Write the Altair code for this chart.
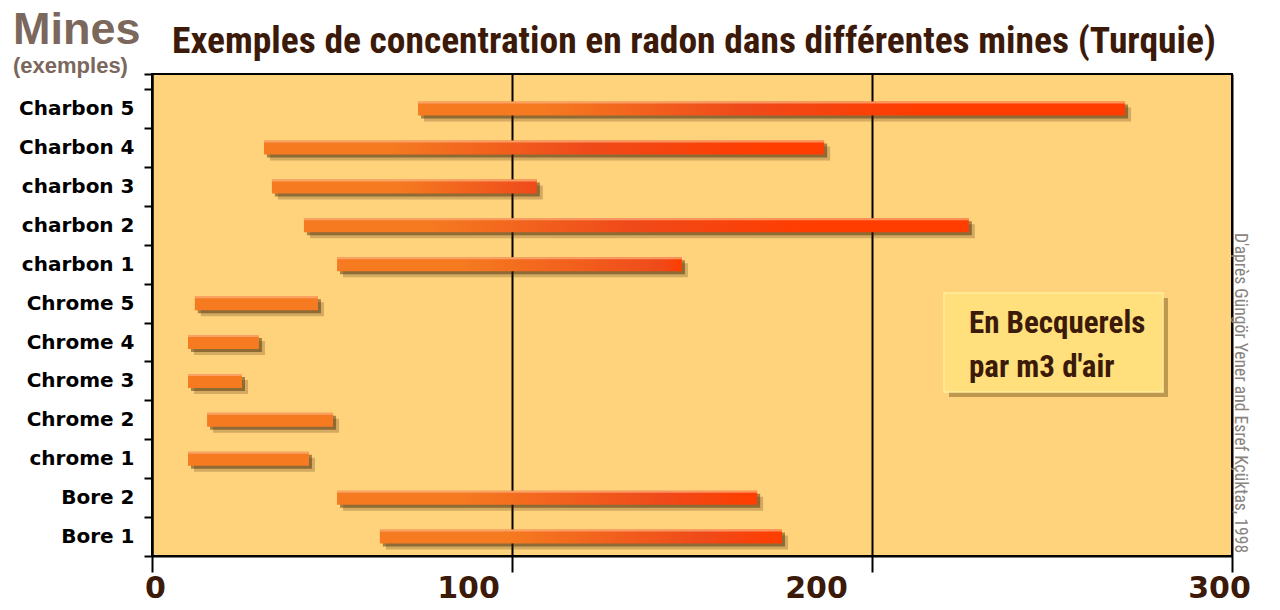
import json
import altair as alt
import pandas as pd

# ---- data ----
mines = ["Bore 1", "Bore 2", "chrome 1", "Chrome 2", "Chrome 3", "Chrome 4",
         "Chrome 5", "charbon 1", "charbon 2", "charbon 3", "Charbon 4", "Charbon 5"]
low = [63.3, 51.4, 10.0, 15.3, 10.0, 10.0, 11.9, 51.4, 42.2, 33.3, 31.1, 73.9]
high = [175.0, 168.1, 43.6, 50.3, 25.0, 29.7, 46.1, 147.2, 226.9, 106.9, 186.7, 270.3]
x_ticks = [0, 100, 200, 300]

title_txt = "Exemples de concentration en radon dans différentes mines (Turquie)"
ylab_main = "Mines"
ylab_sub = "(exemples)"
unit_1 = "En Becquerels"
unit_2 = "par m3 d'air"
credit = "D'après Güngör Yener and Esref Kçüktas, 1998"

df = pd.DataFrame({"mine": mines, "low": low, "high": high})

BROWN = "#3b1a0a"
GREY_BROWN = "#7b675c"
COND = "Roboto Condensed, 'Liberation Sans Narrow', Roboto, sans-serif"

n = len(mines)
ymax = 12.39
y_vals = [i * 0.5 for i in range(2 * n + 1)] + [ymax]
label_expr = ("abs(datum.value % 1 - 0.5) < 0.01 ? " + json.dumps(mines)
              + "[floor(datum.value)] : ''")

grad_expr = (
    "{gradient: 'linear', x1: 0, y1: 0, x2: 1, y2: 0, stops: ["
    "{offset: 0, color: '#f57a20'},"
    "{offset: min(1, 35/(datum.high-datum.low)), color: '#f57a20'},"
    "{offset: min(1, 90/(datum.high-datum.low)), color: '#ef4a1a'},"
    "{offset: min(1, 140/(datum.high-datum.low)), color: '#ff3d00'},"
    "{offset: 1, color: '#ff3d00'}]}"
)

xscale = alt.Scale(domain=[0, 300], nice=False, zero=False, padding=0)
yscale = alt.Scale(domain=[0, ymax], nice=False, zero=False, padding=0)

x_axis = alt.Axis(
    values=x_ticks, grid=True, gridColor="black", gridWidth=2,
    tickSize=16, tickWidth=2, tickColor="black",
    domainColor="black", domainWidth=2,
    labelFont="DejaVu Sans", labelFontWeight="bold", labelFontSize=30,
    labelColor=BROWN, labelPadding=1, labelFlush=False, title=None,
    labelOffset={"condition": [
        {"test": "datum.value == 100", "value": -44},
        {"test": "datum.value == 200", "value": -56},
        {"test": "datum.value == 300", "value": -13}], "value": 3},
)
y_axis = alt.Axis(
    values=y_vals, labelExpr=label_expr, grid=False, title=None,
    tickSize=8, tickWidth=2, tickColor="black",
    tickOpacity={"condition": {"test": "abs(datum.value % 1 - 0.5) < 0.01", "value": 0}, "value": 1},
    domainColor="black", domainWidth=2,
    labelFont="DejaVu Sans", labelFontWeight="bold", labelFontSize=20,
    labelColor="black", labelPadding=10, labelOverlap=False,
)

base = alt.Chart(df).transform_window(
    idx="row_number()"
).transform_calculate(
    pos="datum.idx - 0.5", grad=grad_expr
)

enc = dict(
    x=alt.X("low:Q", scale=xscale, axis=x_axis),
    x2="high:Q",
    y=alt.Y("pos:Q", scale=yscale, axis=y_axis),
)

shadow1 = base.mark_bar(orient="horizontal", size=14, color="#3a1c00", opacity=0.22,
                        xOffset=6, x2Offset=6, yOffset=6).encode(**enc)
shadow2 = base.mark_bar(orient="horizontal", size=14, color="#3a1c00", opacity=0.45,
                        xOffset=3, x2Offset=3, yOffset=3).encode(**enc)
bars = base.mark_bar(orient="horizontal", size=14).encode(
    fill=alt.Fill("grad:N", scale=None, legend=None), **enc)
hilite = base.mark_bar(orient="horizontal", size=2, yOffset=-6, color="#fbb07c",
                       opacity=0.75).encode(**enc)

one = pd.DataFrame({"k": [0]})


def txt(s, **kw):
    return alt.Chart(pd.DataFrame({"t": [s]})).mark_text(**kw).encode(text="t:N")


title = txt(title_txt, font=COND, fontWeight="bold", fontSize=37.5,
            color=BROWN, align="center", baseline="alphabetic").encode(
    x=alt.value(542), y=alt.value(-21))
mines_t = txt(ylab_main, font="Liberation Sans, Arial, sans-serif", fontWeight="bold", fontSize=45,
              color=GREY_BROWN, align="left", baseline="alphabetic").encode(
    x=alt.value(-139), y=alt.value(-30))
ex_t = txt(ylab_sub, font="Liberation Sans, Arial, sans-serif", fontWeight="bold", fontSize=22,
           color=GREY_BROWN, align="left", baseline="alphabetic").encode(
    x=alt.value(-139), y=alt.value(-1))

box_sh = alt.Chart(one).mark_rect(color="#4a2a00", opacity=0.35).encode(
    x=alt.value(797), x2=alt.value(1016), y=alt.value(224), y2=alt.value(323))
box = alt.Chart(one).mark_rect(fill="#ffe07c", stroke="#ffec9c", strokeWidth=1.5).encode(
    x=alt.value(792), x2=alt.value(1011), y=alt.value(219), y2=alt.value(318))
u1 = txt(unit_1, font=COND, fontWeight="bold", fontSize=31,
         color=BROWN, align="left", baseline="alphabetic").encode(
    x=alt.value(817), y=alt.value(259))
u2 = txt(unit_2, font=COND, fontWeight="bold", fontSize=31,
         color=BROWN, align="left", baseline="alphabetic").encode(
    x=alt.value(817), y=alt.value(303))
cred = txt(credit, font=COND, fontWeight="normal", fontSize=17.6,
           color="#8a8480", align="left", baseline="middle", angle=90).encode(
    x=alt.value(1088), y=alt.value(159))

chart = alt.layer(
    shadow1, shadow2, bars, hilite, box_sh, box, u1, u2, title, mines_t, ex_t, cred
).properties(
    width=1080, height=482, autosize="none",
    padding={"left": 144, "top": 66, "right": 40, "bottom": 46},
    background="white",
).configure_view(fill="#fed37c", stroke="black", strokeWidth=2)

chart.save("out.html", embed_options={"renderer": "svg", "actions": False})
